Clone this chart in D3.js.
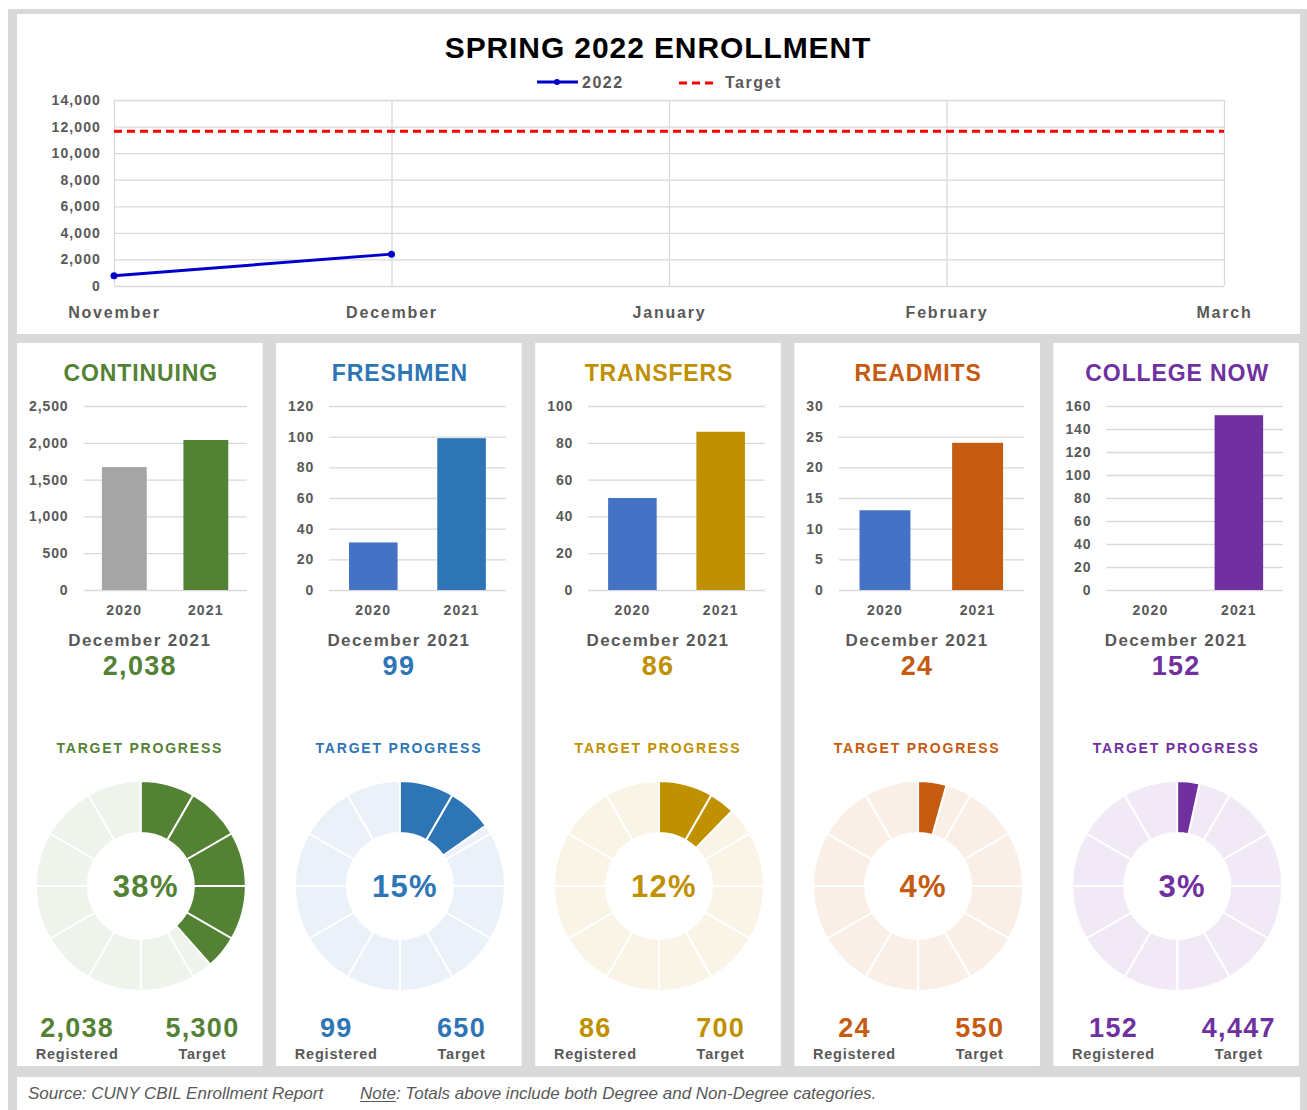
<!DOCTYPE html>
<html><head><meta charset="utf-8">
<script src="https://cdn.jsdelivr.net/npm/d3@7"></script>
<style>
body{margin:0;background:#fff}
svg{display:block}
text{font-family:"Liberation Sans",Arial,Helvetica,sans-serif}
</style>
</head><body>
<svg id="c" width="1307" height="1110"></svg>
<script>
// ---------- DATA ----------
const months = ["November","December","January","February","March"];
const enroll2022 = [780, 2399];                 // Nov, Dec (later months not yet reported)
const targetSeries = [11647, 11647, 11647, 11647, 11647];
const topTicks = [0,2000,4000,6000,8000,10000,12000,14000];

const categories = ["CONTINUING","FRESHMEN","TRANSFERS","READMITS","COLLEGE NOW"];
const years = ["2020","2021"];
const values2020 = [1670, 31, 50, 13, 0];
const values2021 = [2038, 99, 86, 24, 152];
const targets = [5300, 650, 700, 550, 4447];
const panelTicks = [
  [0,500,1000,1500,2000,2500],
  [0,20,40,60,80,100,120],
  [0,20,40,60,80,100],
  [0,5,10,15,20,25,30],
  [0,20,40,60,80,100,120,140,160]
];
const snapshotLabel = "December 2021";
const colors = ["#548235","#2e75b6","#bf9000","#c55a11","#7030a0"];
const colors2020 = ["#a5a5a5","#4472c4","#4472c4","#4472c4","#4472c4"];

// ---------- DRAW ----------
const svg = d3.select("#c");
const FONT = '"Liberation Sans",Arial,Helvetica,sans-serif';
const GRAY = "#595959", GRID = "#d9d9d9";
const fmt = d3.format(",");

svg.append("rect").attr("x",8).attr("y",9).attr("width",1299).attr("height",1101).attr("fill","#d9d9d9");

// top panel
svg.append("rect").attr("x",17).attr("y",14).attr("width",1283).attr("height",320).attr("fill","#fff");

svg.append("text").attr("x",658).attr("y",58).attr("text-anchor","middle")
  .attr("font-size",30).attr("font-weight","bold").attr("fill","#000").attr("letter-spacing",0.9)
  .text("SPRING 2022 ENROLLMENT");

const x = d3.scalePoint().domain(months).range([114,1224]);
const y = d3.scaleLinear().domain([0,14000]).range([286,100]);

// horizontal grid + y labels
svg.append("g").attr("transform","translate(114,0)")
  .call(d3.axisLeft(y).tickValues(topTicks).tickSize(-(1224-114)).tickPadding(13).tickFormat(fmt))
  .call(a=>a.select(".domain").remove())
  .call(a=>a.selectAll("line").attr("stroke",GRID).attr("stroke-width",1.3))
  .call(a=>a.selectAll("text").attr("font-size",14).attr("font-weight","bold").attr("fill",GRAY)
        .attr("font-family",FONT).attr("letter-spacing",1.1));

// vertical grid + x labels
svg.append("g").attr("transform","translate(0,286)")
  .call(d3.axisBottom(x).tickSize(-(286-100)).tickPadding(0))
  .call(a=>a.select(".domain").remove())
  .call(a=>a.selectAll("line").attr("stroke",GRID).attr("stroke-width",1.3))
  .call(a=>a.selectAll("text").attr("y",26).attr("dy","0.35em").attr("font-size",16).attr("font-weight","bold")
        .attr("fill",GRAY).attr("font-family",FONT).attr("letter-spacing",1.8));

// target dashed
svg.append("path").datum(targetSeries)
  .attr("d", d3.line().x((d,i)=>x(months[i])).y(d=>y(d)))
  .attr("fill","none").attr("stroke","#ff0000").attr("stroke-width",3).attr("stroke-dasharray","8,5");

// 2022 line
svg.append("path").datum(enroll2022)
  .attr("d", d3.line().x((d,i)=>x(months[i])).y(d=>y(d)))
  .attr("fill","none").attr("stroke","#0000cc").attr("stroke-width",3);
svg.selectAll(".pt").data(enroll2022).enter().append("circle")
  .attr("cx",(d,i)=>x(months[i])).attr("cy",d=>y(d)).attr("r",3.5).attr("fill","#0000cc");

// legend
const lg = svg.append("g");
lg.append("line").attr("x1",537).attr("x2",578).attr("y1",82).attr("y2",82).attr("stroke","#0000cc").attr("stroke-width",3);
lg.append("circle").attr("cx",557).attr("cy",82).attr("r",3).attr("fill","#0000cc");
lg.append("text").attr("x",582).attr("y",88).text("2022").attr("font-size",16).attr("font-weight","bold").attr("fill",GRAY).attr("letter-spacing",1.5);
lg.append("line").attr("x1",679).attr("x2",718).attr("y1",83).attr("y2",83).attr("stroke","#ff0000").attr("stroke-width",3).attr("stroke-dasharray","8,5");
lg.append("text").attr("x",725).attr("y",88).text("Target").attr("font-size",16).attr("font-weight","bold").attr("fill",GRAY).attr("letter-spacing",1.5);

// bottom panels
const panelX = d3.scaleBand().domain(categories).range([17,1299]).paddingInner(0.052);
const arc = d3.arc();
const SEG = Math.PI/6;

categories.forEach((cat,i)=>{
  const x0 = panelX(cat), w = panelX.bandwidth(), cx = x0 + w/2;
  const col = colors[i];
  const tint = d3.interpolateRgb("#ffffff", col)(0.1);
  const p = svg.append("g");
  p.append("rect").attr("x",x0).attr("y",343).attr("width",w).attr("height",723).attr("fill","#fff");

  p.append("text").attr("x",cx+1).attr("y",381).attr("text-anchor","middle")
    .attr("font-size",23).attr("font-weight","bold").attr("fill",col).attr("letter-spacing",0.9).text(cat);

  // measure tick label width
  const tmp = p.append("text").attr("font-size",14).attr("font-weight","bold").attr("letter-spacing",0.9);
  let maxW = 0;
  panelTicks[i].forEach(t=>{ tmp.text(fmt(t)); maxW = Math.max(maxW, tmp.node().getComputedTextLength()); });
  tmp.remove();
  const left = x0 + 12 + maxW + 15, right = x0 + w - 16;
  const yb = d3.scaleLinear().domain([0, d3.max(panelTicks[i])]).range([590,406]);
  const xb = d3.scaleBand().domain(years).range([left,right]).paddingInner(0.45).paddingOuter(0.225);

  p.append("g").attr("transform",`translate(${left},0)`)
    .call(d3.axisLeft(yb).tickValues(panelTicks[i]).tickSize(-(right-left)).tickPadding(15).tickFormat(fmt))
    .call(a=>a.select(".domain").remove())
    .call(a=>a.selectAll("line").attr("stroke",GRID).attr("stroke-width",1.3))
    .call(a=>a.selectAll("text").attr("font-size",14).attr("font-weight","bold").attr("fill",GRAY)
          .attr("font-family",FONT).attr("letter-spacing",0.9));

  const vals = [values2020[i], values2021[i]];
  p.selectAll(".bar").data(vals).enter().append("rect")
    .attr("x",(d,j)=>xb(years[j])).attr("width",xb.bandwidth())
    .attr("y",d=>yb(d)).attr("height",d=>yb(0)-yb(d))
    .attr("fill",(d,j)=> j===0 ? colors2020[i] : col);

  p.append("g").attr("transform","translate(0,590)")
    .call(d3.axisBottom(xb).tickSize(0).tickPadding(0))
    .call(a=>a.select(".domain").remove())
    .call(a=>a.selectAll("text").attr("y",20).attr("dy","0.35em").attr("font-size",14).attr("font-weight","bold")
          .attr("fill",GRAY).attr("font-family",FONT).attr("letter-spacing",1.2));

  p.append("text").attr("x",cx).attr("y",646).attr("text-anchor","middle")
    .attr("font-size",17).attr("font-weight","bold").attr("fill",GRAY).attr("letter-spacing",1.4).text(snapshotLabel);
  p.append("text").attr("x",cx).attr("y",675).attr("text-anchor","middle")
    .attr("font-size",27).attr("font-weight","bold").attr("fill",col).attr("letter-spacing",1.3).text(fmt(values2021[i]));

  p.append("text").attr("x",cx).attr("y",753).attr("text-anchor","middle")
    .attr("font-size",14).attr("font-weight","bold").attr("fill",col).attr("letter-spacing",1.8).text("TARGET PROGRESS");

  // donut
  const dc = p.append("g").attr("transform",`translate(${cx+1},886)`);
  const R = 105, r0 = 53;
  d3.range(12).forEach(k=>{
    dc.append("path").attr("d",arc({innerRadius:r0,outerRadius:R,startAngle:k*SEG,endAngle:(k+1)*SEG}))
      .attr("fill",tint).attr("stroke","#fff").attr("stroke-width",2);
  });
  const frac = values2021[i]/targets[i];
  const endA = frac*2*Math.PI;
  d3.range(12).forEach(k=>{
    const s = k*SEG, e = Math.min((k+1)*SEG, endA);
    if (e > s) dc.append("path").attr("d",arc({innerRadius:r0,outerRadius:R,startAngle:s,endAngle:e}))
      .attr("fill",col).attr("stroke","#fff").attr("stroke-width",2);
  });
  p.append("text").attr("x",cx+6).attr("y",897).attr("text-anchor","middle")
    .attr("font-size",31).attr("font-weight","bold").attr("fill",col).attr("letter-spacing",1.3)
    .text(Math.round(frac*100)+"%");

  const rx = x0 + 0.245*w, tx = x0 + 0.755*w;
  [[rx, fmt(values2021[i]), "Registered"], [tx, fmt(targets[i]), "Target"]].forEach(([xx,num,lab])=>{
    p.append("text").attr("x",xx).attr("y",1037).attr("text-anchor","middle")
      .attr("font-size",27).attr("font-weight","bold").attr("fill",col).attr("letter-spacing",1.3).text(num);
    p.append("text").attr("x",xx).attr("y",1059).attr("text-anchor","middle")
      .attr("font-size",14.5).attr("font-weight","bold").attr("fill",GRAY).attr("letter-spacing",0.8).text(lab);
  });
});

// footer
svg.append("rect").attr("x",17).attr("y",1077).attr("width",1283).attr("height",33).attr("fill","#fff");
svg.append("text").attr("x",28).attr("y",1099).attr("font-size",17).attr("font-style","italic").attr("fill",GRAY)
  .text("Source: CUNY CBIL Enrollment Report");
const note = svg.append("text").attr("x",360).attr("y",1099).attr("font-size",17).attr("font-style","italic").attr("fill",GRAY);
const noteWord = note.append("tspan").text("Note");
note.append("tspan").text(": Totals above include both Degree and Non-Degree categories.");
const nw = noteWord.node().getComputedTextLength();
svg.append("line").attr("x1",360).attr("x2",360+nw).attr("y1",1101.5).attr("y2",1101.5).attr("stroke",GRAY).attr("stroke-width",1);
</script>
</body></html>
